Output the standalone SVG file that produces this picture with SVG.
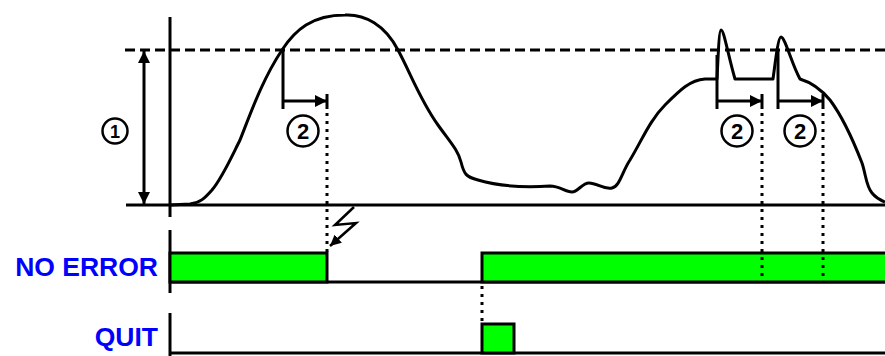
<svg xmlns="http://www.w3.org/2000/svg" width="885" height="356" viewBox="0 0 885 356">
<style>
.ln{stroke:#000;stroke-width:3;fill:none}
.thin{stroke:#000;stroke-width:2.5;fill:none}
.dash{stroke:#000;stroke-width:3;fill:none;stroke-dasharray:10 5}
.dot{stroke:#000;stroke-width:3;fill:none;stroke-dasharray:3 5}
.sig{fill:#00ff00;stroke:#000;stroke-width:3}
.lbl{font-family:"Liberation Sans",Arial,sans-serif;font-weight:bold;font-size:26.5px;fill:#0000ff;text-anchor:end}
.circ{fill:#fff;stroke:#000;stroke-width:2.5}
.num{font-family:"Liberation Sans",Arial,sans-serif;font-weight:bold;text-anchor:middle;fill:#000}
</style>
<defs>
<marker id="ah" viewBox="0 0 10 10" refX="10" refY="5" markerWidth="12" markerHeight="12" markerUnits="userSpaceOnUse" orient="auto-start-reverse">
<path d="M0,0 L10,5 L0,10 Z" fill="#000"/>
</marker>
<marker id="ah2" viewBox="0 0 10 10" refX="10" refY="5" markerWidth="11" markerHeight="11" markerUnits="userSpaceOnUse" orient="auto">
<path d="M0,0 L10,5 L0,10 Z" fill="#000"/>
</marker>
</defs>
<g id="axes">
<line class="ln" x1="170" y1="17" x2="170" y2="217"/>
<line class="ln" x1="170" y1="230" x2="170" y2="293"/>
<line class="ln" x1="170" y1="313" x2="170" y2="356"/>
<line class="ln" x1="126" y1="205" x2="885" y2="205"/>
<line class="dash" x1="125" y1="50" x2="885" y2="50"/>
</g>
<g id="curve">
<path class="ln" stroke-linejoin="round" d="M170,205 L190,204 C200,203 205,198 212,190 C222,178 230,160 240,140 C250,115 262,80 282,50 C295,30 312,15 345,15 C365,14 385,25 398,50 C410,72 420,100 438,125 C450,142 458,150 461,162 C464,174 466,177 478,180 C495,185 520,188 550,186 C560,186 565,192 572,192 C578,192 582,183 589,183 C597,183 604,190 612,188 C620,186 622,172 630,160 C642,140 650,120 665,105 C680,90 690,80 705,79 L717,79 C718,60 719,30 721,30 C724,30 728,55 735,79 L773,79 C775,65 778,37 781,37 C785,37 792,65 800,79 C810,82 820,88 830,100 C845,120 855,145 862,163 C866,175 866,186 872,193 C876,198 880,200 885,202"/>
</g>
<g id="node-range1">
<line class="ln" x1="144" y1="51" x2="144" y2="204" marker-start="url(#ah)" marker-end="url(#ah)"/>
<circle class="circ" cx="115" cy="131" r="12.5"/>
<text class="num" x="115" y="138" font-size="18">1</text>
</g>
<g id="node-delay-a">
<line class="ln" x1="283" y1="50" x2="283" y2="109"/>
<line class="ln" x1="283" y1="101" x2="327" y2="101" marker-end="url(#ah)"/>
<line class="ln" x1="327" y1="94" x2="327" y2="109"/>
<circle class="circ" cx="303" cy="131" r="15.5"/>
<text class="num" x="303" y="139" font-size="22">2</text>
</g>
<g id="node-delay-b">
<line class="ln" x1="717" y1="55" x2="717" y2="109"/>
<line class="ln" x1="717" y1="101" x2="762" y2="101" marker-end="url(#ah)"/>
<line class="ln" x1="762" y1="94" x2="762" y2="109"/>
<circle class="circ" cx="737" cy="131" r="15.5"/>
<text class="num" x="737" y="139" font-size="22">2</text>
</g>
<g id="node-delay-c">
<line class="ln" x1="778" y1="50" x2="778" y2="109"/>
<line class="ln" x1="778" y1="101" x2="823" y2="101" marker-end="url(#ah)"/>
<line class="ln" x1="823" y1="94" x2="823" y2="109"/>
<circle class="circ" cx="800" cy="131" r="15.5"/>
<text class="num" x="800" y="139" font-size="22">2</text>
</g>
<g id="node-noerror">
<text class="lbl" x="158" y="276">NO ERROR</text>
<line class="ln" x1="170" y1="282" x2="885" y2="282"/>
<rect class="sig" x="170" y="253" width="157" height="29"/>
<rect class="sig" x="482" y="253" width="410" height="29"/>
</g>
<g id="node-quit">
<text class="lbl" x="158" y="346">QUIT</text>
<line class="ln" x1="170" y1="353" x2="885" y2="353"/>
<rect class="sig" x="482" y="324" width="32" height="29"/>
</g>
<g id="connectors">
<line class="dot" x1="327" y1="113" x2="327" y2="252"/>
<line class="dot" x1="762" y1="113" x2="762" y2="283"/>
<line class="dot" x1="823" y1="113" x2="823" y2="283"/>
<line class="dot" x1="482" y1="286" x2="482" y2="322"/>
<polyline class="thin" points="354,207 335,225 356,223 330,246" marker-end="url(#ah2)"/>
</g>
</svg>
